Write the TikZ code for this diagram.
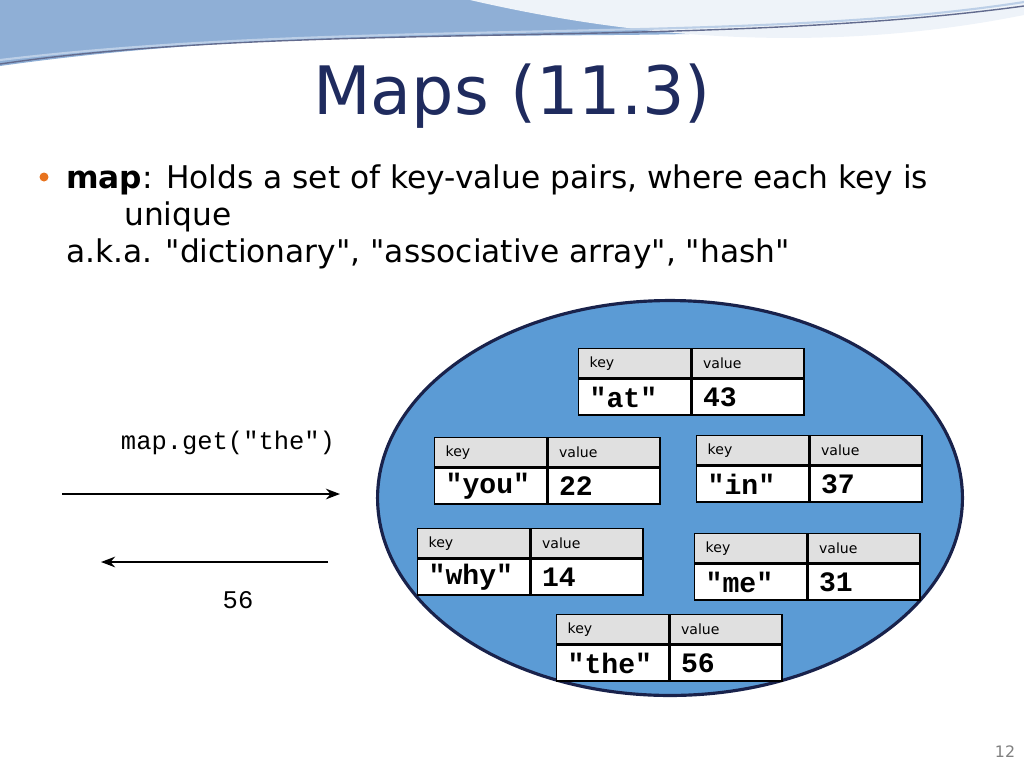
\documentclass[tikz,border=0pt]{standalone}
\usepackage{fontspec}
\setmainfont{DejaVu Sans}
\setmonofont{Liberation Mono}
\usetikzlibrary{positioning,arrows.meta,shapes.geometric}
\definecolor{slidenavy}{HTML}{1F2B5E}
\definecolor{mapblue}{HTML}{5B9BD5}
\definecolor{waveblue}{HTML}{8FAFD6}
\definecolor{headgray}{HTML}{E0E0E0}
\definecolor{bulletorange}{HTML}{E8731E}
\newcommand{\qq}{\textquotedbl}

% one key/value table: name, x, y (top left), key text, value text
\newcommand{\kvtable}[5]{%
  \node[kvhead, anchor=north west] (#1kh) at (#2,#3) {key};
  \node[kvhead, right=0pt of #1kh] (#1vh) {value};
  \node[kvcell, below=0pt of #1kh] (#1k) {#4};
  \node[kvcell, below=0pt of #1vh] (#1v) {#5};
}

\begin{document}
\begin{tikzpicture}[
    x=0.02cm, y=-0.02cm,
    >=Stealth,
    kvhead/.style={draw, thick, fill=headgray, minimum width=2.24cm, minimum height=0.58cm,
                   text width=1.8cm, font=\footnotesize, inner ysep=0pt, inner xsep=0.2cm},
    kvcell/.style={draw, thick, fill=white, minimum width=2.24cm, minimum height=0.72cm,
                   text width=1.8cm, font=\ttfamily\bfseries\fontsize{16}{18}\selectfont,
                   inner ysep=0pt, inner xsep=0.2cm},
    arrow/.style={->, line width=1.6pt, >={Stealth[length=8pt]}},
    bodytext/.style={anchor=west, font=\fontsize{17.8}{21}\selectfont},
]
\useasboundingbox (0,0) rectangle (1024,768);
% header wave
\fill[waveblue] (0,0) -- (1024,0) -- (1024,8) .. controls (700,60) and (400,10) .. (0,66) -- cycle;
\fill[white!85!waveblue] (470,0) .. controls (600,30) and (800,60) .. (1024,15) -- (1024,0) -- cycle;
\draw[slidenavy!70, thick] (0,64) .. controls (300,20) and (700,50) .. (1024,6);
\draw[waveblue!60!white, line width=1.2pt] (0,60) .. controls (350,18) and (750,45) .. (1024,2);

\node[text=slidenavy, font=\fontsize{38}{44}\selectfont] (title) at (512,96) {Maps (11.3)};

\fill[bulletorange] (44,177) circle (4.5);
\node[bodytext] (line1) at (60,180) {\textbf{map}: Holds a set of key-value pairs, where each key is};
\node[bodytext] (line2) at (118,217) {unique};
\node[bodytext] (line3) at (60,254) {a.k.a. \qq dictionary\qq, \qq associative array\qq, \qq hash\qq};

\node[draw=slidenavy!80!black, line width=1.8pt, fill=mapblue, ellipse,
      minimum width=11.7cm, minimum height=7.9cm] (map) at (670,498) {};

\kvtable{at}{578}{348}{\qq at\qq}{43}
\kvtable{you}{434}{437}{\qq you\qq}{22}
\kvtable{in}{696}{435}{\qq in\qq}{37}
\kvtable{why}{417}{528}{\qq why\qq}{14}
\kvtable{me}{694}{533}{\qq me\qq}{31}
\kvtable{the}{556}{614}{\qq the\qq}{56}

\node[font=\ttfamily\fontsize{14.5}{17}\selectfont] (call) at (228,443) {map.get(\qq the\qq)};
\coordinate (callstart) at (62,494);
\coordinate (callend) at (340,494);
\draw[arrow] (callstart) -- (callend);
\coordinate (retstart) at (328,562);
\coordinate (retend) at (101,562);
\draw[arrow] (retstart) -- (retend);
\node[font=\ttfamily\fontsize{14.5}{17}\selectfont] (result) at (238,600) {56};

\node[font=\small, text=gray] (pagenum) at (1005,752) {12};
\end{tikzpicture}
\end{document}
